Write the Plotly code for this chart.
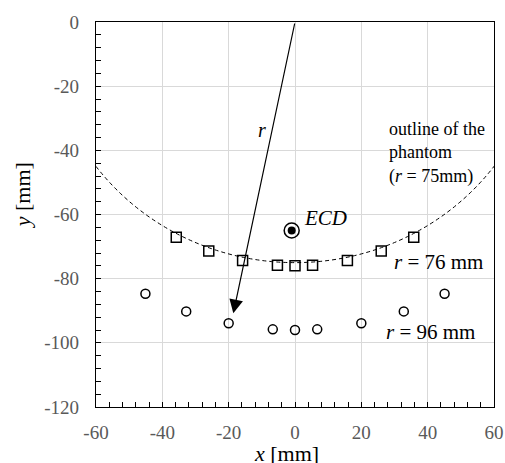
import plotly.graph_objects as go

# Electrode positions on the r = 76 mm arc (squares)
sq_x = [-35.8, -26.0, -15.8, -5.3, 0.0, 5.3, 15.8, 26.0, 35.8]
sq_y = [-67.1, -71.4, -74.3, -75.8, -76.0, -75.8, -74.3, -71.4, -67.1]

# Electrode positions on the r = 96 mm arc (circles)
ci_x = [-45.1, -32.8, -20.0, -6.7, 0.0, 6.7, 20.0, 32.8, 45.1]
ci_y = [-84.7, -90.2, -93.9, -95.8, -96.0, -95.8, -93.9, -90.2, -84.7]

# Equivalent current dipole
ecd_x = [-1.0]
ecd_y = [-65.0]

# Phantom outline radius and arrow to the outer ring
phantom_r = 75
arrow_tail = (0.0, 0.0)
arrow_tip = (-18.6, -90.8)

x_ticks = [-60, -40, -20, 0, 20, 40, 60]
x_tick_text = ["-60", "-40", "-20", "0", "20", "40", "60"]
y_ticks = [0, -20, -40, -60, -80, -100, -120]
y_tick_text = ["0", "-20", "-40", "-60", "-80", "-100", "-120"]

SERIF = "Liberation Serif"

fig = go.Figure()

fig.add_trace(go.Scatter(
    x=sq_x, y=sq_y, mode="markers",
    marker=dict(symbol="square-open", size=10, color="black", line=dict(width=1.5)),
    showlegend=False, cliponaxis=False,
))
fig.add_trace(go.Scatter(
    x=ci_x, y=ci_y, mode="markers",
    marker=dict(symbol="circle-open", size=9, color="black", line=dict(width=1.5)),
    showlegend=False, cliponaxis=False,
))
fig.add_trace(go.Scatter(
    x=ecd_x, y=ecd_y, mode="markers",
    marker=dict(symbol="circle-open", size=15, color="black", line=dict(width=1.5)),
    showlegend=False,
))
fig.add_trace(go.Scatter(
    x=ecd_x, y=ecd_y, mode="markers",
    marker=dict(symbol="circle", size=8, color="black"),
    showlegend=False,
))

# dashed phantom outline (clipped to the plotting area)
fig.add_shape(
    type="circle", xref="x", yref="y",
    x0=-phantom_r, x1=phantom_r, y0=-phantom_r, y1=phantom_r,
    line=dict(color="black", width=1, dash="4px,3px"),
)

annotations = [
    dict(x=arrow_tip[0], y=arrow_tip[1], ax=arrow_tail[0], ay=arrow_tail[1],
         xref="x", yref="y", axref="x", ayref="y", text="",
         showarrow=True, arrowhead=2, arrowsize=2.3, arrowwidth=1.2,
         arrowcolor="black", standoff=0, startstandoff=0),
    dict(x=-10.1, y=-33.6, xref="x", yref="y", text="<i>r</i>", showarrow=False,
         font=dict(family=SERIF, size=20, color="black")),
    dict(x=9.1, y=-61.0, xref="x", yref="y", text="<i>ECD</i>", showarrow=False,
         font=dict(family=SERIF, size=21, color="black")),
    dict(x=27.6, y=-40.8, xref="x", yref="y", xanchor="left", align="left",
         text="outline of the<br>phantom<br>(<i>r</i> = 75mm)", showarrow=False,
         font=dict(family=SERIF, size=18, color="black")),
    dict(x=43.2, y=-74.9, xref="x", yref="y", text="<i>r</i> = 76 mm", showarrow=False,
         font=dict(family=SERIF, size=21, color="black")),
    dict(x=40.8, y=-96.5, xref="x", yref="y", text="<i>r</i> = 96 mm", showarrow=False,
         font=dict(family=SERIF, size=21, color="black")),
    dict(x=-0.1825, y=0.551, xref="paper", yref="paper", text="<i>y</i> [mm]",
         xanchor="center", yanchor="middle",
         textangle=-90, showarrow=False,
         font=dict(family=SERIF, size=22, color="black")),
    dict(x=0.478, y=-0.1196, xref="paper", yref="paper", text="<i>x</i> [mm]",
         xanchor="center", yanchor="middle", showarrow=False,
         font=dict(family=SERIF, size=22, color="black")),
]

axis_common = dict(
    showline=True, linecolor="black", linewidth=1.3, mirror=True,
    showgrid=True, gridcolor="#d9d9d9", gridwidth=1,
    zeroline=False, automargin=False,
    ticks="inside", ticklen=5, tickwidth=1, tickcolor="black",
    minor=dict(dtick=4, ticks="inside", ticklen=5, tickwidth=1, tickcolor="black", showgrid=False),
    tickfont=dict(family=SERIF, size=19, color="#595959"),
)

fig.update_xaxes(range=[-60, 60], tickvals=x_ticks, ticktext=x_tick_text,
                 ticklabelstandoff=8, **axis_common)
fig.update_yaxes(range=[-120, 0], tickvals=y_ticks, ticktext=y_tick_text,
                 ticklabelstandoff=12, **axis_common)

fig.update_layout(
    width=505, height=463,
    margin=dict(l=96, r=11, t=22, b=56),
    paper_bgcolor="white", plot_bgcolor="white",
    annotations=annotations,
    showlegend=False,
)

fig.write_html("out.html")
